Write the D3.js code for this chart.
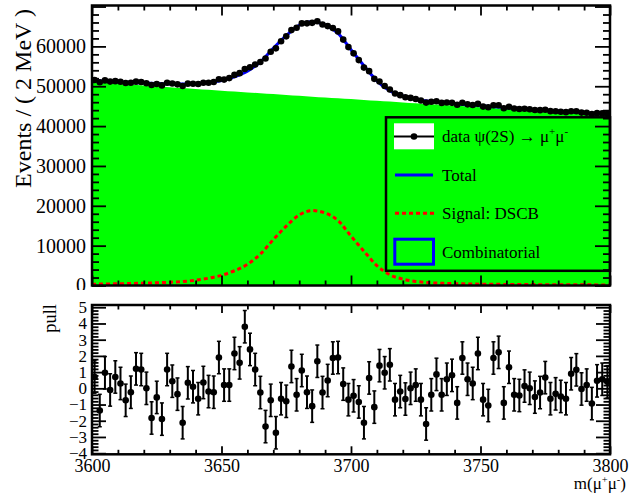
<!DOCTYPE html>
<html><head><meta charset="utf-8">
<script src="https://cdn.jsdelivr.net/npm/d3@7"></script>
<style>
html,body{margin:0;padding:0;background:#fff;}
svg{display:block;font-family:"Liberation Serif","Times New Roman",serif;}
</style></head><body>
<svg id="c" width="629" height="495"></svg>
<script>
// Dimuon invariant mass around the psi(2S), 2 MeV bins
const binCenters = d3.range(3601, 3800, 2);
const counts = [
  51553, 51015, 51471, 51165, 51280, 51126, 50830, 50881, 51148, 51082,
  50767, 50306, 50544, 50206, 50858, 50670, 50475, 50075, 50656, 50643,
  50553, 50891, 50878, 51074, 51763, 51668, 52042, 52851, 53285, 54334,
  54779, 55459, 56079, 56945, 58671, 59511, 61282, 62516, 64093, 64685,
  65764, 65776, 65911, 66299, 65480, 65085, 64594, 63755, 61699, 59820,
  58257, 56565, 54677, 53789, 51853, 51172, 50068, 49172, 48177, 47766,
  47248, 47079, 46809, 46414, 45901, 46106, 46232, 45817, 45903, 45833,
  45356, 45840, 45452, 45297, 45580, 44888, 44717, 45243, 45215, 44475,
  44850, 44403, 44306, 44342, 44227, 44028, 44001, 44108, 43752, 43732,
  43615, 43503, 43742, 43711, 43384, 43354, 43036, 43247, 43187, 43074
];
const pulls = [
  0.7, -1.37, 0.96, -0.1, 0.7, 0.3, -0.74, -0.24, 1.2, 1.16,
  0, -1.83, -0.56, -1.9, 1.16, 0.44, -0.36, -2.12, 0.34, 0.1,
  -0.64, 0.36, -0.2, -0.24, 1.9, 0.2, 0.2, 2.15, 1.57, 3.8,
  2.4, 1.16, -0.26, -2.36, -0.74, -2.74, -0.64, -0.8, 1.35, -0.4,
  1.1, -0.24, -1.1, 1.67, -0.26, 0.48, 1.87, 1.9, 0.26, -0.7,
  -0.46, -0.84, -2.12, 0.64, -1.16, 1.4, 0.96, 1.45, -0.7, -0.2,
  -0.66, 0, 0.2, -0.7, -2.2, -0.4, 0.86, -0.4, 0.56, 0.8,
  -0.9, 1.87, 0.56, 0.3, 2.15, -0.7, -1.06, 1.87, 2.22, -0.9,
  1.3, -0.4, -0.44, 0.14, 0, -0.54, -0.26, 0.66, -0.64, -0.34,
  -0.5, -0.64, 0.9, 1.14, -0.04, 0.2, -0.94, 0.46, 0.56, 0.4
];
const pullError = 1;

// Fit model sampled every 5 MeV
const curveMass = d3.range(3600, 3801, 5);
const totalFit = [
  51430, 51254, 51089, 50935, 50791, 50670, 50579, 50540, 50641, 50923,
  51436, 52370, 53755, 56141, 59528, 62716, 65305, 66194, 65385, 63277,
  59169, 55163, 51357, 48852, 47549, 46766, 46264, 45903, 45602, 45333,
  45084, 44847, 44620, 44399, 44184, 43970, 43761, 43554, 43352, 43151,
  42951
];
const signalFit = [
  330, 380, 440, 510, 590, 690, 820, 1000, 1320, 1820,
  2550, 3700, 5300, 7900, 11500, 14900, 17700, 18800, 18200, 16300,
  12400, 8600, 5000, 2700, 1600, 1020, 720, 560, 460, 390,
  340, 300, 270, 245, 225, 205, 190, 175, 165, 155,
  145
];
const combinatorialFit = [
  51100, 50874, 50649, 50425, 50201, 49980, 49759, 49540, 49321, 49103,
  48886, 48670, 48455, 48241, 48028, 47816, 47605, 47394, 47185, 46977,
  46769, 46563, 46357, 46152, 45949, 45746, 45544, 45343, 45142, 44943,
  44744, 44547, 44350, 44154, 43959, 43765, 43571, 43379, 43187, 42996,
  42806
];

const xTicks = [3600, 3650, 3700, 3750, 3800];
const yTicksTop = [0, 10000, 20000, 30000, 40000, 50000, 60000, 70000];
const yLabelsTop = [0, 10000, 20000, 30000, 40000, 50000, 60000];
const yTicksPull = [-4, -3, -2, -1, 0, 1, 2, 3, 4, 5];

const svg = d3.select("#c");
const L = 92, R = 610;
const topY0 = 5.5, topY1 = 285.5;
const pullY0 = 305, pullY1 = 454.3;

const x = d3.scaleLinear().domain([3600, 3800]).range([L, R]);
const yTop = d3.scaleLinear().domain([0, 70260]).range([topY1, topY0]);
const yPull = d3.scaleLinear().domain([-4.07, 5.14]).range([pullY1, pullY0]);

const defs = svg.append("defs");
defs.append("clipPath").attr("id", "clipTop").append("rect")
  .attr("x", L).attr("y", topY0).attr("width", R - L).attr("height", topY1 - topY0);
defs.append("clipPath").attr("id", "clipTopPad").append("rect")
  .attr("x", 0).attr("y", 0).attr("width", 629).attr("height", 290);

const GREEN = "#00ff00", BLUE = "#0000ff", RED = "#ff0000";

// ---------- upper panel ----------
const plot = svg.append("g").attr("clip-path", "url(#clipTop)");

const fitPts = (vals) => curveMass.map((m, i) => [m, vals[i]]);

plot.append("path")
  .datum(fitPts(combinatorialFit))
  .attr("d", d3.area().x(d => x(d[0])).y0(yTop(0)).y1(d => yTop(d[1])).curve(d3.curveMonotoneX))
  .attr("fill", GREEN);

plot.append("path")
  .datum(fitPts(signalFit))
  .attr("d", d3.line().x(d => x(d[0])).y(d => yTop(d[1])).curve(d3.curveMonotoneX))
  .attr("fill", "none").attr("stroke", RED).attr("stroke-width", 3)
  .attr("stroke-dasharray", "4,3");

plot.append("path")
  .datum(fitPts(totalFit))
  .attr("d", d3.line().x(d => x(d[0])).y(d => yTop(d[1])).curve(d3.curveMonotoneX))
  .attr("fill", "none").attr("stroke", BLUE).attr("stroke-width", 3);

plot.selectAll("circle.data").data(binCenters).enter().append("circle")
  .attr("class", "data")
  .attr("cx", d => x(d)).attr("cy", (d, i) => yTop(counts[i]))
  .attr("r", 3.3).attr("fill", "#000");

// legend
const lg = svg.append("g");
lg.append("rect").attr("x", 386).attr("y", 117.3).attr("width", R - 386).attr("height", 153.5)
  .attr("fill", "none").attr("stroke", "#000").attr("stroke-width", 2.5);
lg.append("rect").attr("x", 394).attr("y", 123.3).attr("width", 40).attr("height", 26).attr("fill", "#fff");
lg.append("line").attr("x1", 394).attr("x2", 434).attr("y1", 136.5).attr("y2", 136.5)
  .attr("stroke", "#000").attr("stroke-width", 2);
lg.append("circle").attr("cx", 414).attr("cy", 136.5).attr("r", 3.3).attr("fill", "#000");
lg.append("line").attr("x1", 395).attr("x2", 433).attr("y1", 175).attr("y2", 175)
  .attr("stroke", BLUE).attr("stroke-width", 3);
lg.append("line").attr("x1", 395).attr("x2", 434).attr("y1", 213.3).attr("y2", 213.3)
  .attr("stroke", RED).attr("stroke-width", 3).attr("stroke-dasharray", "4,3");
lg.append("rect").attr("x", 394.8).attr("y", 239.2).attr("width", 38.7).attr("height", 25)
  .attr("fill", GREEN).attr("stroke", BLUE).attr("stroke-width", 3);

const lgText = (yb) => lg.append("text").attr("x", 442).attr("y", yb)
  .attr("font-size", 17).attr("fill", "#000");
{
  const t = lgText(142);
  t.append("tspan").text("data ψ(2S) → μ");
  t.append("tspan").attr("font-size", 11).attr("dy", -7).text("+");
  t.append("tspan").attr("dy", 7).text("μ");
  t.append("tspan").attr("font-size", 11).attr("dy", -7).text("-");
}
lgText(181).text("Total");
lgText(218.5).text("Signal: DSCB");
lgText(257.5).text("Combinatorial");

// axes helpers
function styleAxis(g, fs) {
  g.select(".domain").remove();
  g.selectAll(".tick line").attr("stroke", "#000").attr("stroke-width", 1.8);
  g.selectAll(".tick text").attr("font-size", fs).attr("fill", "#000")
    .attr("font-family", "Liberation Serif, Times New Roman, serif");
  return g;
}
const minorOf = (lo, hi, step, majors) =>
  d3.range(lo, hi + step / 2, step).map(v => +v.toFixed(6))
    .filter(v => !majors.some(m => Math.abs(m - v) < 1e-6));

const xMinor = minorOf(3600, 3800, 10, xTicks);
const yTopMinor = minorOf(0, 70000, 2000, yTicksTop);

// top panel: left axis labels (the upper pad ends just below the axis)
svg.append("g").attr("clip-path", "url(#clipTopPad)")
  .append("g").attr("transform", `translate(${L},0)`)
  .call(d3.axisLeft(yTop).tickValues(yLabelsTop).tickSize(0).tickPadding(6).tickFormat(d3.format("d")))
  .call(g => styleAxis(g, 20));
svg.append("g").attr("transform", `translate(${L},0)`)
  .call(d3.axisLeft(yTop).tickValues(yTicksTop).tickSize(-14).tickFormat(""))
  .call(g => styleAxis(g, 20));
svg.append("g").attr("transform", `translate(${L},0)`)
  .call(d3.axisLeft(yTop).tickValues(yTopMinor).tickSize(-7).tickFormat(""))
  .call(g => styleAxis(g, 20));
svg.append("g").attr("transform", `translate(${R},0)`)
  .call(d3.axisRight(yTop).tickValues(yTicksTop).tickSize(-15).tickFormat(""))
  .call(g => styleAxis(g, 20));
svg.append("g").attr("transform", `translate(${R},0)`)
  .call(d3.axisRight(yTop).tickValues(yTopMinor).tickSize(-7).tickFormat(""))
  .call(g => styleAxis(g, 20));
svg.append("g").attr("transform", `translate(0,${topY0})`)
  .call(d3.axisTop(x).tickValues(xTicks).tickSize(-10).tickFormat(""))
  .call(g => styleAxis(g, 18));
svg.append("g").attr("transform", `translate(0,${topY0})`)
  .call(d3.axisTop(x).tickValues(xMinor).tickSize(-5).tickFormat(""))
  .call(g => styleAxis(g, 18));
svg.append("g").attr("transform", `translate(0,${topY1})`)
  .call(d3.axisBottom(x).tickValues(xTicks).tickSize(-10).tickFormat(""))
  .call(g => styleAxis(g, 18));
svg.append("g").attr("transform", `translate(0,${topY1})`)
  .call(d3.axisBottom(x).tickValues(xMinor).tickSize(-5).tickFormat(""))
  .call(g => styleAxis(g, 18));

svg.append("rect").attr("x", L).attr("y", topY0).attr("width", R - L).attr("height", topY1 - topY0)
  .attr("fill", "none").attr("stroke", "#000").attr("stroke-width", 2.5);

svg.append("text")
  .attr("transform", "translate(31,9) rotate(-90)")
  .attr("text-anchor", "end").attr("font-size", 24).attr("fill", "#000")
  .text("Events / ( 2 MeV )");

// ---------- pull panel ----------
const pp = svg.append("g");
const pullPts = binCenters.map((m, i) => ({ m, p: pulls[i] }));
pp.selectAll("line.err").data(pullPts).enter().append("line")
  .attr("x1", d => x(d.m)).attr("x2", d => x(d.m))
  .attr("y1", d => yPull(d.p - pullError)).attr("y2", d => yPull(d.p + pullError))
  .attr("stroke", "#000").attr("stroke-width", 2);
pp.selectAll("line.capLo").data(pullPts).enter().append("line")
  .attr("x1", d => x(d.m) - 2).attr("x2", d => x(d.m) + 2)
  .attr("y1", d => yPull(d.p - pullError)).attr("y2", d => yPull(d.p - pullError))
  .attr("stroke", "#000").attr("stroke-width", 1.5);
pp.selectAll("line.capHi").data(pullPts).enter().append("line")
  .attr("x1", d => x(d.m) - 2).attr("x2", d => x(d.m) + 2)
  .attr("y1", d => yPull(d.p + pullError)).attr("y2", d => yPull(d.p + pullError))
  .attr("stroke", "#000").attr("stroke-width", 1.5);
pp.selectAll("circle").data(pullPts).enter().append("circle")
  .attr("cx", d => x(d.m)).attr("cy", d => yPull(d.p)).attr("r", 3.3).attr("fill", "#000");

const pullMinor = minorOf(-4, 5, 0.2, yTicksPull);
svg.append("g").attr("transform", `translate(${L},0)`)
  .call(d3.axisLeft(yPull).tickValues(yTicksPull).tickSize(-14).tickPadding(5).tickFormat(d => d < 0 ? "\u2212" + Math.abs(d) : d))
  .call(g => styleAxis(g, 17));
svg.append("g").attr("transform", `translate(${L},0)`)
  .call(d3.axisLeft(yPull).tickValues(pullMinor).tickSize(-6.5).tickFormat(""))
  .call(g => styleAxis(g, 17));
svg.append("g").attr("transform", `translate(${R},0)`)
  .call(d3.axisRight(yPull).tickValues(yTicksPull).tickSize(-14).tickFormat(""))
  .call(g => styleAxis(g, 17));
svg.append("g").attr("transform", `translate(${R},0)`)
  .call(d3.axisRight(yPull).tickValues(pullMinor).tickSize(-6.5).tickFormat(""))
  .call(g => styleAxis(g, 17));
svg.append("g").attr("transform", `translate(0,${pullY1})`)
  .call(d3.axisBottom(x).tickValues(xTicks).tickSize(-8).tickPadding(5).tickFormat(d3.format("d")))
  .call(g => styleAxis(g, 18));
svg.append("g").attr("transform", `translate(0,${pullY1})`)
  .call(d3.axisBottom(x).tickValues(xMinor).tickSize(-4.5).tickFormat(""))
  .call(g => styleAxis(g, 18));
svg.append("g").attr("transform", `translate(0,${pullY0})`)
  .call(d3.axisTop(x).tickValues(xTicks).tickSize(-8).tickFormat(""))
  .call(g => styleAxis(g, 18));
svg.append("g").attr("transform", `translate(0,${pullY0})`)
  .call(d3.axisTop(x).tickValues(xMinor).tickSize(-4.5).tickFormat(""))
  .call(g => styleAxis(g, 18));

svg.append("rect").attr("x", L).attr("y", pullY0).attr("width", R - L).attr("height", pullY1 - pullY0)
  .attr("fill", "none").attr("stroke", "#000").attr("stroke-width", 2.5);

svg.append("text")
  .attr("transform", "translate(56,304) rotate(-90)")
  .attr("text-anchor", "end").attr("font-size", 18.5).attr("fill", "#000")
  .text("pull");

{
  const t = svg.append("text").attr("x", 626).attr("y", 489).attr("text-anchor", "end")
    .attr("font-size", 17).attr("fill", "#000");
  t.append("tspan").text("m(μ");
  t.append("tspan").attr("font-size", 10.5).attr("dy", -6.5).text("+");
  t.append("tspan").attr("dy", 6.5).text("μ");
  t.append("tspan").attr("font-size", 10.5).attr("dy", -6.5).text("-");
  t.append("tspan").attr("dy", 6.5).text(")");
}
</script>
</body></html>
